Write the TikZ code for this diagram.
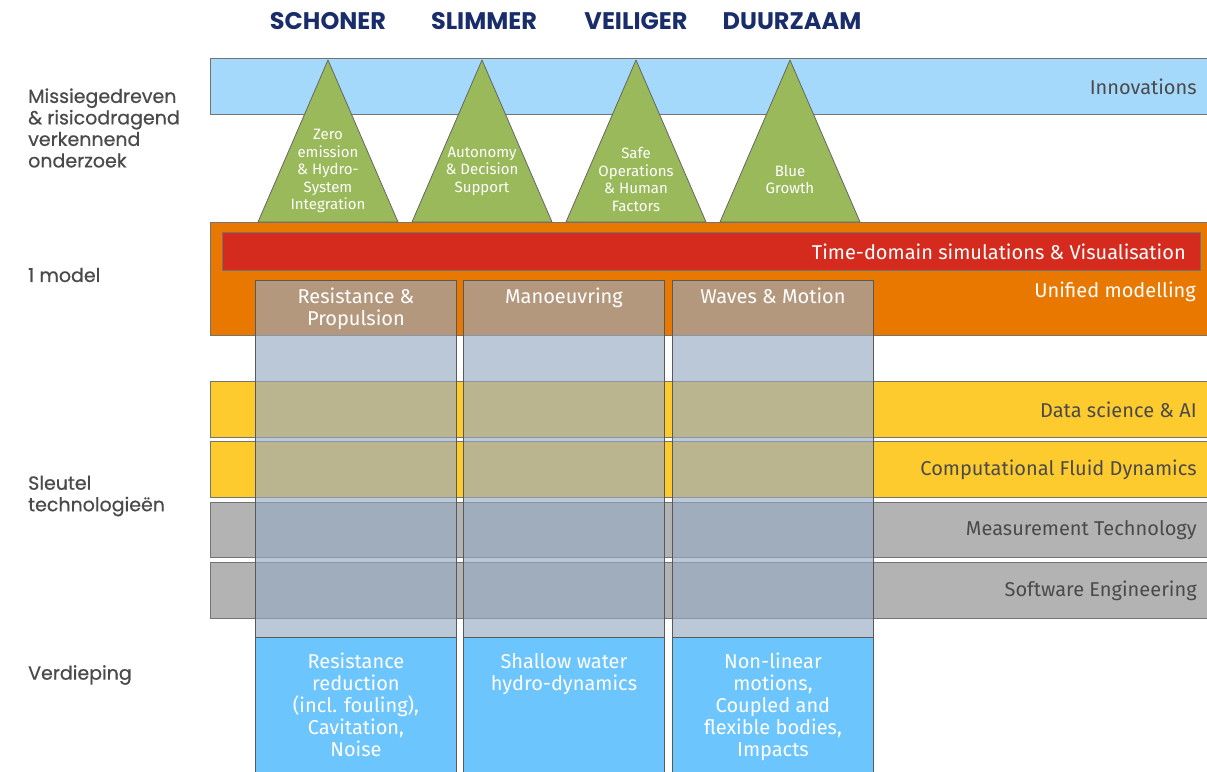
\documentclass[tikz,border=0pt]{standalone}
\usepackage{fontspec}
\setmainfont{Fira Sans}
\newfontfamily\headfont{Poppins}
\newfontfamily\sidefont{Poppins}[FakeBold=0.6]
\usetikzlibrary{positioning}

\definecolor{innovblue}{HTML}{A5D9FB}
\definecolor{peakgreen}{HTML}{9AB95A}
\definecolor{unifiedorange}{HTML}{E87800}
\definecolor{simred}{HTML}{D52B1E}
\definecolor{techyellow}{HTML}{FECB2F}
\definecolor{techgrey}{HTML}{B3B3B3}
\definecolor{overlayblue}{RGB}{151,170,195}
\definecolor{deepblue}{HTML}{6CC5FC}
\definecolor{headnavy}{HTML}{1A2D6B}
\definecolor{labelgrey}{HTML}{4A4A4A}

\begin{document}
\begin{tikzpicture}[
    x=1pt, y=-1pt,
    band/.style    = {draw=black!55, line width=0.9pt, anchor=north west,
                      inner sep=0pt, minimum width=1000pt},
    bandtxt/.style = {anchor=east, inner sep=0pt, text=labelgrey,
                      font=\fontsize{20}{22}\selectfont},
    whitetxt/.style= {inner sep=0pt, text=white, align=center,
                      font=\fontsize{20}{22}\selectfont},
    peak/.style    = {fill=peakgreen, draw=black!60, line width=0.8pt,
                      line join=round},
    peaktxt/.style = {inner sep=0pt, text=white, align=center,
                      font=\fontsize{15}{17.5}\selectfont},
    colbox/.style  = {anchor=north west, inner sep=0pt, minimum width=201pt,
                      minimum height=357pt, fill=overlayblue, fill opacity=0.65,
                      draw=black!65, line width=0.9pt},
    deepbox/.style = {anchor=north west, inner sep=0pt, minimum width=201pt,
                      minimum height=140pt, fill=deepblue,
                      draw=black!65, line width=0.9pt},
    head/.style    = {inner sep=0pt, text=headnavy,
                      font=\headfont\bfseries\fontsize{24}{28}\selectfont},
    side/.style    = {anchor=west, inner sep=0pt, text=labelgrey, align=left,
                      font=\sidefont\fontsize{19}{21.5}\selectfont},
  ]
  \useasboundingbox (0,0) rectangle (1207,771);
  % headings
  \node[head] (h1) at (328,21) {SCHONER};
  \node[head] (h2) at (484,21) {SLIMMER};
  \node[head] (h3) at (636,21) {VEILIGER};
  \node[head] (h4) at (792,21) {DUURZAAM};
  % side labels
  \node[side] (missie) at (28,128) {Missiegedreven\\\& risicodragend\\verkennend\\onderzoek};
  \node[side] (model)  at (28,275) {1 model};
  \node[side] (sleutel) at (28,496) {Sleutel\\technologieën};
  \node[side] (verdiep) at (28,675) {Verdieping};
  % innovations band
  \node[band, fill=innovblue, minimum height=56pt] (innov) at (210,58) {};
  \node[bandtxt] at ([xshift=-14pt]innov.east) {Innovations};
  % unified modelling
  \node[band, fill=unifiedorange, minimum height=113pt] (unified) at (210,222) {};
  \node[band, fill=simred, minimum width=978pt, minimum height=38pt] (simul) at (222,232) {};
  \node[whitetxt, anchor=east] at ([xshift=-15pt]simul.east) {Time-domain simulations \& Visualisation};
  \node[whitetxt, anchor=east] (unitxt) at (1196,292) {Unified modelling};
  % key technologies
  \node[band, fill=techyellow, minimum height=56pt] (data) at (210,381) {};
  \node[bandtxt] at ([xshift=-14pt]data.east) {Data science \& AI};
  \node[band, fill=techyellow, minimum height=56pt] (cfd) at (210,441) {};
  \node[bandtxt] at ([xshift=-14pt]cfd.east) {Computational Fluid Dynamics};
  \node[band, fill=techgrey, minimum height=55pt] (meas) at (210,502) {};
  \node[bandtxt] at ([xshift=-14pt]meas.east) {Measurement Technology};
  \node[band, fill=techgrey, minimum height=56pt] (soft) at (210,562) {};
  \node[bandtxt] at ([xshift=-14pt]soft.east) {Software Engineering};
  % mission peaks
  \foreach \i/\cx in {1/328,2/482,3/636,4/790}{
    \coordinate (apex\i) at (\cx,60);
    \draw[peak] (apex\i) -- ++(70,162) -- ++(-140,0) -- cycle;
  }
  \node[peaktxt] (peak1) at (328,171)   {Zero\\emission\\\& Hydro-\\System\\Integration};
  \node[peaktxt] (peak2) at (482,171)   {Autonomy\\\& Decision\\Support};
  \node[peaktxt] (peak3) at (636,179.5) {Safe\\Operations\\\& Human\\Factors};
  \node[peaktxt] (peak4) at (790,179.5) {Blue\\Growth};
  % disciplines
  \foreach \i/\x in {1/255,2/463,3/672}{
    \node[colbox]  (col\i)  at (\x,280) {};
    \node[deepbox] (deep\i) at (\x,637) {};
  }
  \node[whitetxt, below=8pt of col1.north] (col1txt) {Resistance \&\\Propulsion};
  \node[whitetxt, below=8pt of col2.north] (col2txt) {Manoeuvring};
  \node[whitetxt, below=8pt of col3.north] (col3txt) {Waves \& Motion};
  \node[whitetxt, below=16pt of deep1.north] (deep1txt) {Resistance\\reduction\\(incl. fouling),\\Cavitation,\\Noise};
  \node[whitetxt, below=16pt of deep2.north] (deep2txt) {Shallow water\\hydro-dynamics};
  \node[whitetxt, below=16pt of deep3.north] (deep3txt) {Non-linear\\motions,\\Coupled and\\flexible bodies,\\Impacts};
\end{tikzpicture}
\end{document}
